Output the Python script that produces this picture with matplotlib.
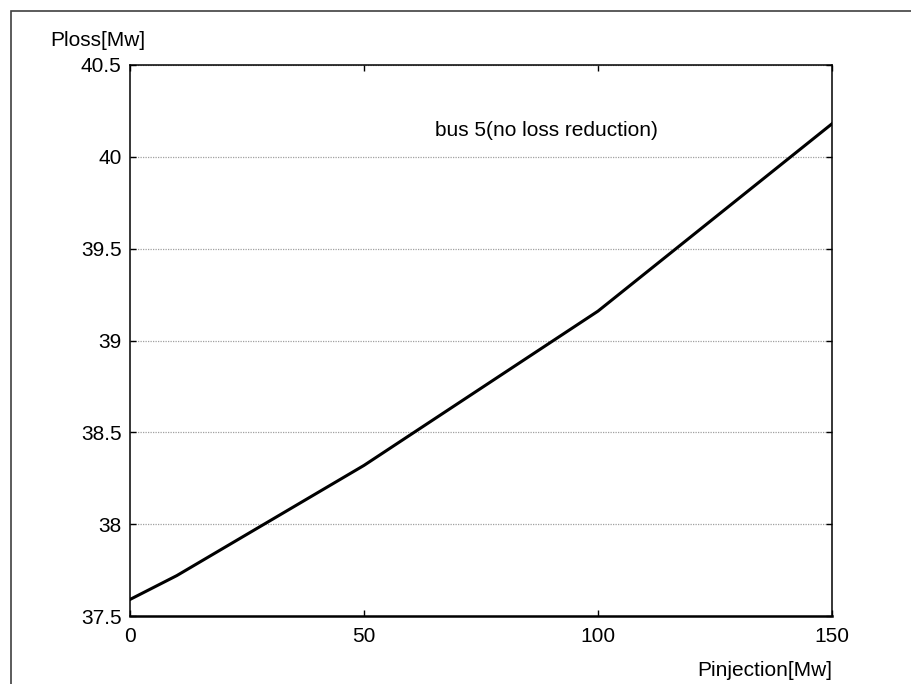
import matplotlib
matplotlib.use("Agg")
import matplotlib.pyplot as plt
from matplotlib.patches import Rectangle

plt.rcParams["font.family"] = ["Liberation Sans", "DejaVu Sans"]

p_injection = [0, 10, 50, 100, 150]
p_loss = [37.59, 37.72, 38.32, 39.16, 40.18]
x_ticks = [0, 50, 100, 150]
y_ticks = [37.5, 38, 38.5, 39, 39.5, 40, 40.5]
y_tick_labels = ["37.5", "38", "38.5", "39", "39.5", "40", "40.5"]

fig = plt.figure(figsize=(9.11, 6.84), dpi=100)
fig.patches.append(Rectangle((11 / 911, -0.1), 1.2, 1 - 11 / 684 + 0.1,
                             transform=fig.transFigure, fill=False,
                             edgecolor="#404040", linewidth=1.2))

ax = fig.add_axes([130 / 911, 1 - 616 / 684, 702 / 911, 551 / 684])
ax.plot(p_injection, p_loss, color="black", linewidth=2.2)

ax.set_xlim(0, 150)
ax.set_ylim(37.5, 40.5)
ax.set_xticks(x_ticks)
ax.set_yticks(y_ticks)
ax.set_yticklabels(y_tick_labels)
ax.tick_params(direction="in", length=4, width=1, labelsize=15,
               top=True, right=True)
ax.tick_params(axis="x", pad=8)
ax.tick_params(axis="y", pad=6)
ax.yaxis.grid(True, color="#a0a0a0", linewidth=0.9, linestyle=(0, (1, 1)))
ax.set_axisbelow(True)

for side in ["top", "left", "right"]:
    ax.spines[side].set_linewidth(1.1)
ax.spines["bottom"].set_linewidth(1.8)

ax.text(88.9, 40.146, "bus 5(no loss reduction)", fontsize=15,
        ha="center", va="center")

fig.text(50 / 911, 1 - 41 / 684, "Ploss[Mw]", fontsize=15,
         ha="left", va="center")
fig.text(832 / 911, 1 - 670 / 684, "Pinjection[Mw]", fontsize=15,
         ha="right", va="center")

fig.savefig("out.png", dpi=100)
